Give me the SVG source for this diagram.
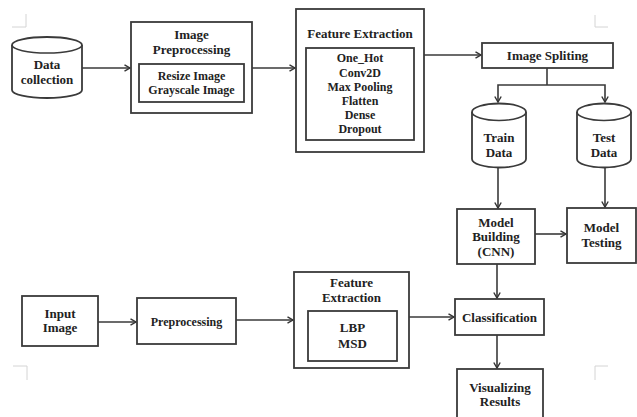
<svg xmlns="http://www.w3.org/2000/svg" width="637" height="417" viewBox="0 0 637 417">
<defs>
<marker id="ah" markerWidth="8" markerHeight="8" refX="6.5" refY="4" orient="auto" markerUnits="userSpaceOnUse">
<path d="M1,0.8 L6.5,4 L1,7.2" fill="none" stroke="#333" stroke-width="1.4"/>
</marker>
</defs>
<style>
.b{fill:#fff;stroke:#3a3a3a;stroke-width:1.8}
.c{fill:none;stroke:#3a3a3a;stroke-width:1.6}
.e{fill:none;stroke:#3a3a3a;stroke-width:1.6;marker-end:url(#ah)}
text{font-family:"Liberation Serif","Times New Roman",serif;font-weight:bold;fill:#222;text-anchor:middle;font-size:13px}
.s{font-size:12px}
.m{fill:none;stroke:#d4d4d4;stroke-width:1}
</style>
<rect width="637" height="417" fill="#fff"/>
<g id="cropmarks">
<path class="m" d="M12,27 H26 V14"/>
<path class="m" d="M608,27 H595 V15"/>
<path class="m" d="M13,366 H27 V380"/>
<path class="m" d="M608,366 H595 V380"/>
</g>
<g id="connectors">
<line class="e" x1="82" y1="68" x2="130" y2="68"/>
<line class="e" x1="252" y1="68" x2="295" y2="68"/>
<line class="e" x1="424" y1="55" x2="481" y2="55"/>
<polyline class="c" points="547,68 547,85"/>
<polyline class="e" points="547,85 498,85 498,102"/>
<polyline class="e" points="547,85 605,85 605,102"/>
<line class="e" x1="498" y1="168" x2="498" y2="208"/>
<line class="e" x1="605" y1="168" x2="605" y2="207"/>
<line class="e" x1="535" y1="234" x2="566" y2="234"/>
<line class="e" x1="497" y1="264" x2="497" y2="298"/>
<line class="e" x1="409" y1="317" x2="454" y2="317"/>
<line class="e" x1="497" y1="335" x2="497" y2="368"/>
<line class="e" x1="98" y1="322" x2="136" y2="322"/>
<line class="e" x1="236" y1="320" x2="293" y2="320"/>
</g>
<g id="data-collection">
<path class="b" d="M12,45 V90 A35,8 0 0 0 82,90 V45 A35,8 0 0 0 12,45 Z"/>
<path class="c" d="M12,45 A35,8 0 0 0 82,45"/>
<text x="47" y="69">Data</text>
<text x="47" y="84">collection</text>
</g>
<g id="image-preprocessing">
<rect class="b" x="131" y="22" width="121" height="91"/>
<text x="191.5" y="39">Image</text>
<text x="191.5" y="54">Preprocessing</text>
<rect class="b" x="139" y="64" width="105" height="38"/>
<text class="s" x="191.5" y="80">Resize Image</text>
<text class="s" x="191.5" y="94">Grayscale Image</text>
</g>
<g id="feature-extraction-1">
<rect class="b" x="296" y="9" width="128" height="143"/>
<text x="360" y="38">Feature Extraction</text>
<rect class="b" x="306" y="48" width="108" height="92"/>
<text class="s" x="360" y="62">One_Hot</text>
<text class="s" x="360" y="77">Conv2D</text>
<text class="s" x="360" y="91">Max Pooling</text>
<text class="s" x="360" y="105">Flatten</text>
<text class="s" x="360" y="119">Dense</text>
<text class="s" x="360" y="133">Dropout</text>
</g>
<g id="image-spliting">
<rect class="b" x="482" y="43" width="131" height="25"/>
<text x="547.5" y="60">Image Spliting</text>
</g>
<g id="train-data">
<path class="b" d="M472,112 V159 A27,8.5 0 0 0 526,159 V112 A27,8.5 0 0 0 472,112 Z"/>
<path class="c" d="M472,112 A27,8.5 0 0 0 526,112"/>
<text x="499" y="142">Train</text>
<text x="499" y="157">Data</text>
</g>
<g id="test-data">
<path class="b" d="M577,112 V159 A27,8.5 0 0 0 631,159 V112 A27,8.5 0 0 0 577,112 Z"/>
<path class="c" d="M577,112 A27,8.5 0 0 0 631,112"/>
<text x="604" y="142">Test</text>
<text x="604" y="157">Data</text>
</g>
<g id="model-building">
<rect class="b" x="457" y="209" width="78" height="55"/>
<text x="496" y="227">Model</text>
<text x="496" y="241">Building</text>
<text x="496" y="256">(CNN)</text>
</g>
<g id="model-testing">
<rect class="b" x="567" y="208" width="69" height="55"/>
<text x="601.5" y="232">Model</text>
<text x="601.5" y="247">Testing</text>
</g>
<g id="input-image">
<rect class="b" x="22" y="296" width="76" height="50"/>
<text x="60" y="318">Input</text>
<text x="60" y="332">Image</text>
</g>
<g id="preprocessing">
<rect class="b" x="137" y="298" width="99" height="46"/>
<text class="s" x="186.5" y="326">Preprocessing</text>
</g>
<g id="feature-extraction-2">
<rect class="b" x="294" y="272" width="115" height="96"/>
<text x="351.5" y="287">Feature</text>
<text x="351.5" y="302">Extraction</text>
<rect class="b" x="308" y="311" width="89" height="50"/>
<text x="352.5" y="332">LBP</text>
<text x="352.5" y="348">MSD</text>
</g>
<g id="classification">
<rect class="b" x="455" y="299" width="89" height="36"/>
<text x="499.5" y="322">Classification</text>
</g>
<g id="visualizing-results">
<rect class="b" x="457" y="369" width="86" height="60"/>
<text x="500" y="392">Visualizing</text>
<text x="500" y="406">Results</text>
</g>
</svg>
